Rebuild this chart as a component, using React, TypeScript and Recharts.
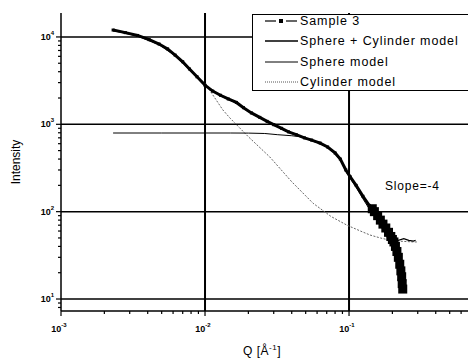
import { LineChart, Line, XAxis, YAxis, ReferenceLine, Legend } from 'recharts';

// Sample 3 (measured)
const sampleQ = [0.0023, 0.0028, 0.0034, 0.0041, 0.0048, 0.0055, 0.0062, 0.007, 0.0078, 0.0088, 0.01, 0.0113, 0.0128, 0.0145, 0.0165, 0.0185, 0.021, 0.024, 0.027, 0.03, 0.034, 0.038, 0.043, 0.049, 0.055, 0.063, 0.071, 0.08, 0.087, 0.095, 0.102, 0.112, 0.125, 0.138, 0.145, 0.15, 0.158, 0.165, 0.172, 0.18, 0.188, 0.195, 0.2, 0.205, 0.21, 0.215, 0.22, 0.225, 0.229, 0.232, 0.234, 0.236];
const sampleI = [12000, 11200, 10400, 9300, 8300, 7300, 6200, 5200, 4300, 3500, 2800, 2400, 2150, 1950, 1780, 1550, 1350, 1200, 1080, 990, 900, 820, 760, 700, 660, 610, 550, 470, 400, 300, 250, 200, 150, 118, 108, 100, 90, 80, 72, 65, 58, 52, 48, 45, 40, 35, 30, 25, 21, 18, 15, 13];

// Sphere + Cylinder model
const sumQ = [0.0023, 0.0034, 0.0048, 0.0062, 0.0078, 0.01, 0.0128, 0.0165, 0.021, 0.027, 0.034, 0.043, 0.055, 0.063, 0.071, 0.08, 0.087, 0.095, 0.102, 0.112, 0.125, 0.138, 0.15, 0.165, 0.18, 0.19, 0.2, 0.22, 0.24, 0.26, 0.28, 0.29];
const sumI = [11900, 10300, 8200, 6150, 4250, 2800, 2130, 1760, 1340, 1070, 890, 755, 655, 605, 545, 465, 395, 300, 250, 198, 150, 118, 102, 80, 63, 54, 49, 47, 49, 47, 46, 47];

// Sphere model
const sphereQ = [0.0023, 0.005, 0.01, 0.015, 0.02, 0.026, 0.032, 0.04, 0.046, 0.055, 0.063, 0.071, 0.08, 0.087, 0.095, 0.102, 0.112, 0.125, 0.138, 0.15, 0.165, 0.18, 0.195, 0.21];
const sphereI = [795, 795, 795, 795, 793, 785, 760, 740, 720, 650, 600, 540, 460, 390, 290, 240, 190, 140, 108, 90, 70, 55, 42, 32];

// Cylinder model
const cylQ = [0.0023, 0.0034, 0.0048, 0.0062, 0.0078, 0.01, 0.0133, 0.0149, 0.02, 0.0282, 0.04, 0.0562, 0.075, 0.0968, 0.12, 0.14, 0.165, 0.193, 0.22, 0.25, 0.28, 0.296];
const cylI = [11800, 10300, 8200, 6100, 4200, 2950, 1460, 1180, 720, 422, 220, 125, 88, 70, 60, 54, 50, 47, 46, 45.5, 45, 45];

const xTicks = [0.001, 0.002, 0.003, 0.004, 0.005, 0.006, 0.007, 0.008, 0.009, 0.01, 0.02, 0.03, 0.04, 0.05, 0.06, 0.07, 0.08, 0.09, 0.1, 0.2, 0.3, 0.4, 0.5, 0.6];
const yTicks = [8, 9, 10, 20, 30, 40, 50, 60, 70, 80, 90, 100, 200, 300, 400, 500, 600, 700, 800, 900, 1000, 2000, 3000, 4000, 5000, 6000, 7000, 8000, 9000, 10000];

const zip = (q: number[], i: number[]) => q.map((v, k) => ({ q: v, i: i[k] }));

const font = '"Liberation Sans", Arial, sans-serif';

const decade = (v: number) => {
  const e = Math.round(Math.log10(v));
  return { e, major: Math.abs(v - Math.pow(10, e)) < 1e-9 * v };
};

const XTick = (props: any) => {
  const { x, y, payload } = props;
  const { e, major } = decade(payload.value);
  return (
    <g>
      <line x1={x} x2={x} y1={y} y2={y + (major ? 5 : 3)} stroke="#000" strokeWidth={1.2} />
      {major && (
        <text x={x - 2} y={y + 21} textAnchor="middle" fontSize={9} fontWeight="bold" fontFamily={font} fill="#000">
          10<tspan fontSize={6} dy={-5}>{e}</tspan>
        </text>
      )}
    </g>
  );
};

const YTick = (props: any) => {
  const { x, y, payload } = props;
  const { e, major } = decade(payload.value);
  return (
    <g>
      <line x1={x} x2={x - (major ? 5 : 3)} y1={y} y2={y} stroke="#000" strokeWidth={1.2} />
      {major && (
        <text x={x - 7} y={y + 3} textAnchor="end" fontSize={9} fontWeight="bold" fontFamily={font} fill="#000">
          10<tspan fontSize={6} dy={-5}>{e}</tspan>
        </text>
      )}
    </g>
  );
};

const SampleDot = (props: any) => {
  const { cx, cy, payload, index } = props;
  const s = payload.q > 0.14 ? 9 : 3;
  return <rect key={index} x={cx - s / 2} y={cy - s / 2} width={s} height={s} fill="#000" />;
};

const legendItems = [
  { name: 'Sample 3', kind: 'sample' },
  { name: 'Sphere + Cylinder model', kind: 'sum' },
  { name: 'Sphere model', kind: 'sphere' },
  { name: 'Cylinder model', kind: 'cyl' },
];

const LegendBox = () => (
  <div
    style={{
      position: 'relative',
      width: 216,
      height: 77,
      border: '1.5px solid #000',
      borderRight: 'none',
      background: '#fff',
      fontFamily: font,
      fontSize: 12.5,
      letterSpacing: 0.9,
      color: '#000',
      boxSizing: 'border-box',
    }}
  >
    {legendItems.map((it, k) => (
      <div
        key={it.name}
        style={{ position: 'absolute', left: 0, top: -4.5 + k * 20.5, height: 20, display: 'flex', alignItems: 'center', whiteSpace: 'nowrap' }}
      >
        <svg width={47} height={10}>
          {it.kind === 'sample' && (
            <>
              <line x1={12} x2={23} y1={5} y2={5} stroke="#000" strokeWidth={1.2} />
              <rect x={26} y={3} width={4} height={4} fill="#000" />
              <line x1={33} x2={44} y1={5} y2={5} stroke="#000" strokeWidth={1.2} />
            </>
          )}
          {it.kind === 'sum' && <line x1={12} x2={45} y1={5} y2={5} stroke="#000" strokeWidth={1.5} />}
          {it.kind === 'sphere' && <line x1={12} x2={45} y1={5} y2={5} stroke="#000" strokeWidth={1} />}
          {it.kind === 'cyl' && <line x1={12} x2={45} y1={5} y2={5} stroke="#555" strokeWidth={1} strokeDasharray="1 1" />}
        </svg>
        <span>{it.name}</span>
      </div>
    ))}
  </div>
);

export default function App() {
  return (
    <div style={{ position: 'absolute', left: 0, top: 0, width: 468, height: 362, background: '#fff' }}>
      <LineChart width={468} height={362} margin={{ top: 13, right: 0, bottom: 0, left: 0 }}>
        <XAxis
          type="number"
          dataKey="q"
          scale="log"
          domain={[0.001, 0.67]}
          allowDataOverflow
          ticks={xTicks}
          interval={0}
          height={51}
          tickSize={0}
          tickMargin={0}
          tickLine={false}
          tick={<XTick />}
          axisLine={{ stroke: '#000', strokeWidth: 1.5 }}
        />
        <YAxis
          type="number"
          dataKey="i"
          scale="log"
          domain={[7.29, 18800]}
          allowDataOverflow
          ticks={yTicks}
          interval={0}
          width={61}
          tickSize={0}
          tickMargin={0}
          tickLine={false}
          tick={<YTick />}
          axisLine={{ stroke: '#000', strokeWidth: 1.5 }}
        />
        {[10, 100, 1000, 10000].map((v) => (
          <ReferenceLine key={v} y={v} stroke="#000" strokeWidth={1.5} />
        ))}
        {[0.01, 0.1].map((v) => (
          <ReferenceLine key={v} x={v} stroke="#000" strokeWidth={2} />
        ))}
        <Line data={zip(cylQ, cylI)} dataKey="i" stroke="#666" strokeWidth={1} strokeDasharray="2 1.5" dot={false} isAnimationActive={false} />
        <Line data={zip(sampleQ, sampleI)} dataKey="i" stroke="#000" strokeWidth={3} dot={<SampleDot />} isAnimationActive={false} />
        <Line data={zip(sphereQ, sphereI)} dataKey="i" stroke="#000" strokeWidth={1} dot={false} isAnimationActive={false} />
        <Line data={zip(sumQ, sumI)} dataKey="i" stroke="#000" strokeWidth={1.2} dot={false} isAnimationActive={false} />
        <Legend
          layout="vertical"
          align="center"
          verticalAlign="middle"
          content={<LegendBox />}
          wrapperStyle={{ top: 14, left: 252, width: 216 }}
        />
      </LineChart>
      <div style={{ position: 'absolute', left: 385, top: 179, fontFamily: font, fontSize: 12, letterSpacing: 0.8 }}>Slope=-4</div>
      <div
        style={{
          position: 'absolute',
          left: 16,
          top: 162,
          transform: 'translate(-50%, -50%) rotate(-90deg)',
          fontFamily: font,
          fontSize: 12,
          whiteSpace: 'nowrap',
        }}
      >
        Intensity
      </div>
      <div style={{ position: 'absolute', left: 243, top: 343, fontFamily: font, fontSize: 12, letterSpacing: 0.5 }}>
        Q [Å<sup style={{ fontSize: 8 }}>-1</sup>]
      </div>
    </div>
  );
}
